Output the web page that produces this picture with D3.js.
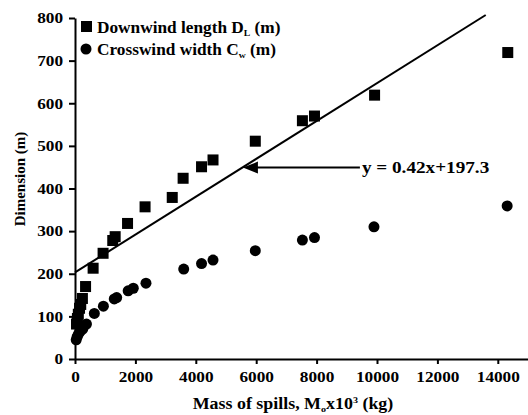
<!DOCTYPE html>
<html>
<head>
<meta charset="utf-8">
<script src="https://cdn.jsdelivr.net/npm/d3@7"></script>
<style>
  body { margin: 0; background: #fff; }
  .wide { transform-box: fill-box; transform: scaleX(1.15); }
  .wide-l { transform-origin: left center; }
  .wide-r { transform-origin: right center; }
  .wide-c { transform-origin: center center; }
</style>
</head>
<body>
<div id="chart"></div>
<script>
// Downwind length D_L (squares)
const downX = [50, 80, 110, 150, 190, 245, 350, 600, 930, 1250, 1330, 1740, 2320, 3220, 3580, 4190, 4570, 5970, 7530, 7930, 9920, 14330];
const downY = [82, 95, 105, 119, 128, 142, 170, 213, 248, 278, 287, 318, 357, 379, 424, 451, 467, 511, 559, 570, 619, 719];

// Crosswind width C_w (circles)
const crossX = [40, 70, 110, 165, 255, 380, 640, 940, 1300, 1380, 1760, 1930, 2350, 3600, 4190, 4570, 5970, 7530, 7930, 9900, 14310];
const crossY = [45, 52, 58, 64, 70, 82, 107, 124, 141, 144, 160, 166, 178, 211, 224, 232, 254, 279, 285, 310, 359];

// fitted line y = 0.42x+197.3 (as drawn)
const fitLine = [[0, 203], [13600, 807]];
const fitLabel = "y = 0.42x+197.3";
const arrowTip = [5560, 449];
const labelAt = [9500, 449];

const xTicks = [0, 2000, 4000, 6000, 8000, 10000, 12000, 14000];
const yTicks = [0, 100, 200, 300, 400, 500, 600, 700, 800];

const FONT = "'Liberation Serif', 'Times New Roman', Times, serif";
const W = 528, H = 415;
const svg = d3.select("#chart").append("svg").attr("width", W).attr("height", H)
  .attr("font-family", FONT).attr("font-weight", "bold");

const x = d3.scaleLinear().domain([0, 15000]).range([75, 528]);
const y = d3.scaleLinear().domain([0, 800]).range([359, 18]);

// axes
const xAxis = svg.append("g")
  .attr("transform", `translate(0,${y(0)})`)
  .call(d3.axisBottom(x).tickValues(xTicks).tickSize(5).tickSizeOuter(0).tickPadding(7).tickFormat(d3.format("d")));
const yAxis = svg.append("g")
  .attr("transform", `translate(${x(0)},0)`)
  .call(d3.axisLeft(y).tickValues(yTicks).tickSize(6).tickSizeOuter(0).tickPadding(6).tickFormat(d3.format("d")));

[xAxis, yAxis].forEach(a => {
  a.attr("font-family", FONT).attr("font-size", 15).attr("font-weight", "bold");
  a.select(".domain").attr("stroke", "#000").attr("stroke-width", 2);
  a.selectAll(".tick line").attr("stroke", "#000").attr("stroke-width", 2);
  a.selectAll("text").attr("fill", "#000");
});
xAxis.selectAll("text").attr("class", "wide wide-c");
yAxis.selectAll("text").attr("class", "wide wide-r");

// fitted line
svg.append("path")
  .datum(fitLine)
  .attr("d", d3.line().x(d => x(d[0])).y(d => y(d[1])))
  .attr("fill", "none").attr("stroke", "#000").attr("stroke-width", 2);

// markers
svg.append("g").selectAll("rect")
  .data(d3.zip(downX, downY))
  .enter().append("rect")
    .attr("x", d => x(d[0]) - 5.5)
    .attr("y", d => y(d[1]) - 5.5)
    .attr("width", 11).attr("height", 11)
    .attr("fill", "#000");

svg.append("g").selectAll("circle")
  .data(d3.zip(crossX, crossY))
  .enter().append("circle")
    .attr("cx", d => x(d[0]))
    .attr("cy", d => y(d[1]))
    .attr("r", 5.5)
    .attr("fill", "#000");

// arrow + equation
const ax0 = x(arrowTip[0]), ay = y(arrowTip[1]), ax1 = x(labelAt[0]);
svg.append("line")
  .attr("x1", ax0 + 12).attr("x2", ax1 - 2)
  .attr("y1", ay).attr("y2", ay)
  .attr("stroke", "#000").attr("stroke-width", 2);
svg.append("path")
  .attr("d", `M${ax0},${ay}L${ax0 + 15},${ay - 6}L${ax0 + 15},${ay + 6}Z`)
  .attr("fill", "#000");
svg.append("text")
  .attr("class", "wide wide-l")
  .style("transform", "scaleX(1.2)")
  .attr("x", ax1).attr("y", ay + 5)
  .attr("font-size", 16)
  .text(fitLabel);

// legend
const leg = svg.append("g");
leg.append("rect").attr("x", 81).attr("y", 21).attr("width", 11).attr("height", 11).attr("fill", "#000");
leg.append("circle").attr("cx", 86).attr("cy", 49).attr("r", 5.5).attr("fill", "#000");
const t1 = leg.append("text").attr("class", "wide wide-l").style("transform", "scaleX(1.08)")
  .attr("x", 97).attr("y", 33).attr("font-size", 16);
t1.append("tspan").text("Downwind length D");
t1.append("tspan").attr("dy", 3).attr("font-size", 9).text("L");
t1.append("tspan").attr("dy", -3).text(" (m)");
const t2 = leg.append("text").attr("class", "wide wide-l").style("transform", "scaleX(1.08)")
  .attr("x", 97).attr("y", 55).attr("font-size", 16);
t2.append("tspan").text("Crosswind width C");
t2.append("tspan").attr("dy", 3).attr("font-size", 9).text("w");
t2.append("tspan").attr("dy", -3).text(" (m)");

// axis titles
const xt = svg.append("text").attr("class", "wide wide-c").style("transform", "scaleX(1.12)")
  .attr("x", 293).attr("y", 409).attr("text-anchor", "middle").attr("font-size", 16);
xt.append("tspan").text("Mass of spills, M");
xt.append("tspan").attr("dy", 3).attr("font-size", 9).text("o");
xt.append("tspan").attr("dy", -3).text("x10");
xt.append("tspan").attr("dy", -6).attr("font-size", 9).text("3");
xt.append("tspan").attr("dy", 6).text(" (kg)");

svg.append("g")
  .attr("transform", "translate(25,179) rotate(-90)")
  .append("text")
  .attr("text-anchor", "middle")
  .attr("font-size", 15)
  .text("Dimension (m)");
</script>
</body>
</html>
